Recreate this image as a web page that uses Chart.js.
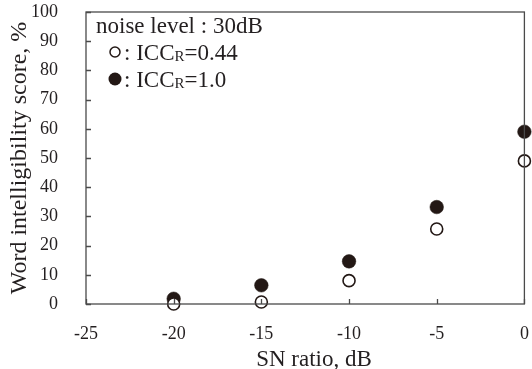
<!DOCTYPE html>
<html>
<head>
<meta charset="utf-8">
<script src="https://cdn.jsdelivr.net/npm/chart.js@4/dist/chart.umd.min.js"></script>
<style>
html,body{margin:0;padding:0;background:#fff;}
#wrap{width:532px;height:369px;position:relative;}
</style>
</head>
<body>
<div id="wrap"><canvas id="c" width="532" height="369"></canvas></div>
<script>
const snRatio = [-20, -15, -10, -5, 0];
const iccLow = [0, 0.7, 8, 25.7, 49];      // ICC_R = 0.44 (open)
const iccHigh = [1.8, 6.4, 14.6, 33.2, 59]; // ICC_R = 1.0 (filled)
const xTicks = [-25, -20, -15, -10, -5, 0];
const yTicks = [0, 10, 20, 30, 40, 50, 60, 70, 80, 90, 100];
const xTitle = 'SN ratio, dB';
const yTitle = 'Word intelligibility score, %';
const legendTitle = 'noise level : 30dB';
const legendItems = [
  {pre: ': ICC', sub: 'R', post: '=0.44', filled: false},
  {pre: ': ICC', sub: 'R', post: '=1.0', filled: true}
];

const FONT = "'Liberation Serif', 'Times New Roman', serif";
const INK = '#231815';
const TXT = '#231f20';

const framePlugin = {
  id: 'frame',
  afterDatasetsDraw(chart) {
    const {ctx, chartArea: a, scales} = chart;
    ctx.save();
    ctx.strokeStyle = '#4a4a4a';
    ctx.lineWidth = 1.3;
    ctx.strokeRect(a.left, a.top, a.right - a.left, a.bottom - a.top);
    ctx.beginPath();
    yTicks.forEach(v => {
      const y = Math.round(scales.y.getPixelForValue(v)) + 0.5;
      ctx.moveTo(a.left, y); ctx.lineTo(a.left + 5, y);
    });
    xTicks.forEach(v => {
      const x = Math.round(scales.x.getPixelForValue(v)) + 0.5;
      ctx.moveTo(x, a.bottom); ctx.lineTo(x, a.bottom - 5);
    });
    ctx.stroke();
    // x axis title (slightly right of centre, as in the source figure)
    ctx.fillStyle = TXT;
    ctx.font = "23px " + FONT;
    ctx.textAlign = 'center';
    ctx.textBaseline = 'alphabetic';
    ctx.fillText(xTitle, scales.x.getPixelForValue(-12.0), chart.height - 3);
    // legend text
    ctx.textAlign = 'left';
    ctx.fillText(legendTitle, a.left + 10, a.top + 21);
    legendItems.forEach((it, i) => {
      const cy = a.top + 40 + i * 27;
      const cx = a.left + 29;
      ctx.beginPath();
      if (it.filled) {
        ctx.arc(cx, cy, 6.5, 0, Math.PI * 2);
        ctx.fillStyle = INK; ctx.fill();
      } else {
        ctx.arc(cx, cy, 5, 0, Math.PI * 2);
        ctx.fillStyle = '#fff'; ctx.fill();
        ctx.lineWidth = 1.5; ctx.strokeStyle = INK; ctx.stroke();
      }
      ctx.fillStyle = TXT;
      let x = cx + 9;
      const base = cy + 8;
      ctx.font = "23px " + FONT;
      ctx.fillText(it.pre, x, base);
      x += ctx.measureText(it.pre).width;
      ctx.font = "15px " + FONT;
      ctx.fillText(it.sub, x, base + 1);
      x += ctx.measureText(it.sub).width;
      ctx.font = "23px " + FONT;
      ctx.fillText(it.post, x, base);
    });
    ctx.restore();
  }
};

new Chart(document.getElementById('c'), {
  type: 'scatter',
  data: {
    datasets: [
      {
        label: 'ICCR=0.44',
        data: snRatio.map((x, i) => ({x, y: iccLow[i]})),
        pointRadius: 6, pointHoverRadius: 6,
        pointBackgroundColor: '#fff', pointBorderColor: INK, pointBorderWidth: 1.6,
        clip: false, order: 1
      },
      {
        label: 'ICCR=1.0',
        data: snRatio.map((x, i) => ({x, y: iccHigh[i]})),
        pointRadius: 6.8, pointHoverRadius: 6.8,
        pointBackgroundColor: INK, pointBorderColor: INK, pointBorderWidth: 0.5,
        clip: false, order: 2
      }
    ]
  },
  options: {
    responsive: false,
    animation: false,
    events: [],
    layout: {padding: {top: 12, right: 3, left: 0, bottom: 0}},
    plugins: {legend: {display: false}, tooltip: {enabled: false}},
    scales: {
      x: {
        type: 'linear', min: -25, max: 0,
        afterBuildTicks(s) { s.ticks = xTicks.map(v => ({value: v})); },
        afterFit(s) { s.height = 65; s.paddingLeft = 0; s.paddingRight = 0; },
        grid: {display: false, drawTicks: false},
        border: {display: false},
        ticks: {color: TXT, font: {family: FONT, size: 18}, padding: 19, maxRotation: 0, autoSkip: false},
        title: {display: false}
      },
      y: {
        type: 'linear', min: 0, max: 100,
        afterBuildTicks(s) { s.ticks = yTicks.map(v => ({value: v})); },
        afterFit(s) { s.width = 86; s.paddingTop = 0; s.paddingBottom = 0; },
        grid: {display: false, drawTicks: false},
        border: {display: false},
        ticks: {color: TXT, font: {family: FONT, size: 18}, padding: 28, autoSkip: false},
        title: {display: true, text: yTitle, color: TXT, font: {family: FONT, size: 24}, padding: {top: 5, bottom: 0}}
      }
    }
  },
  plugins: [framePlugin]
});
</script>
</body>
</html>
